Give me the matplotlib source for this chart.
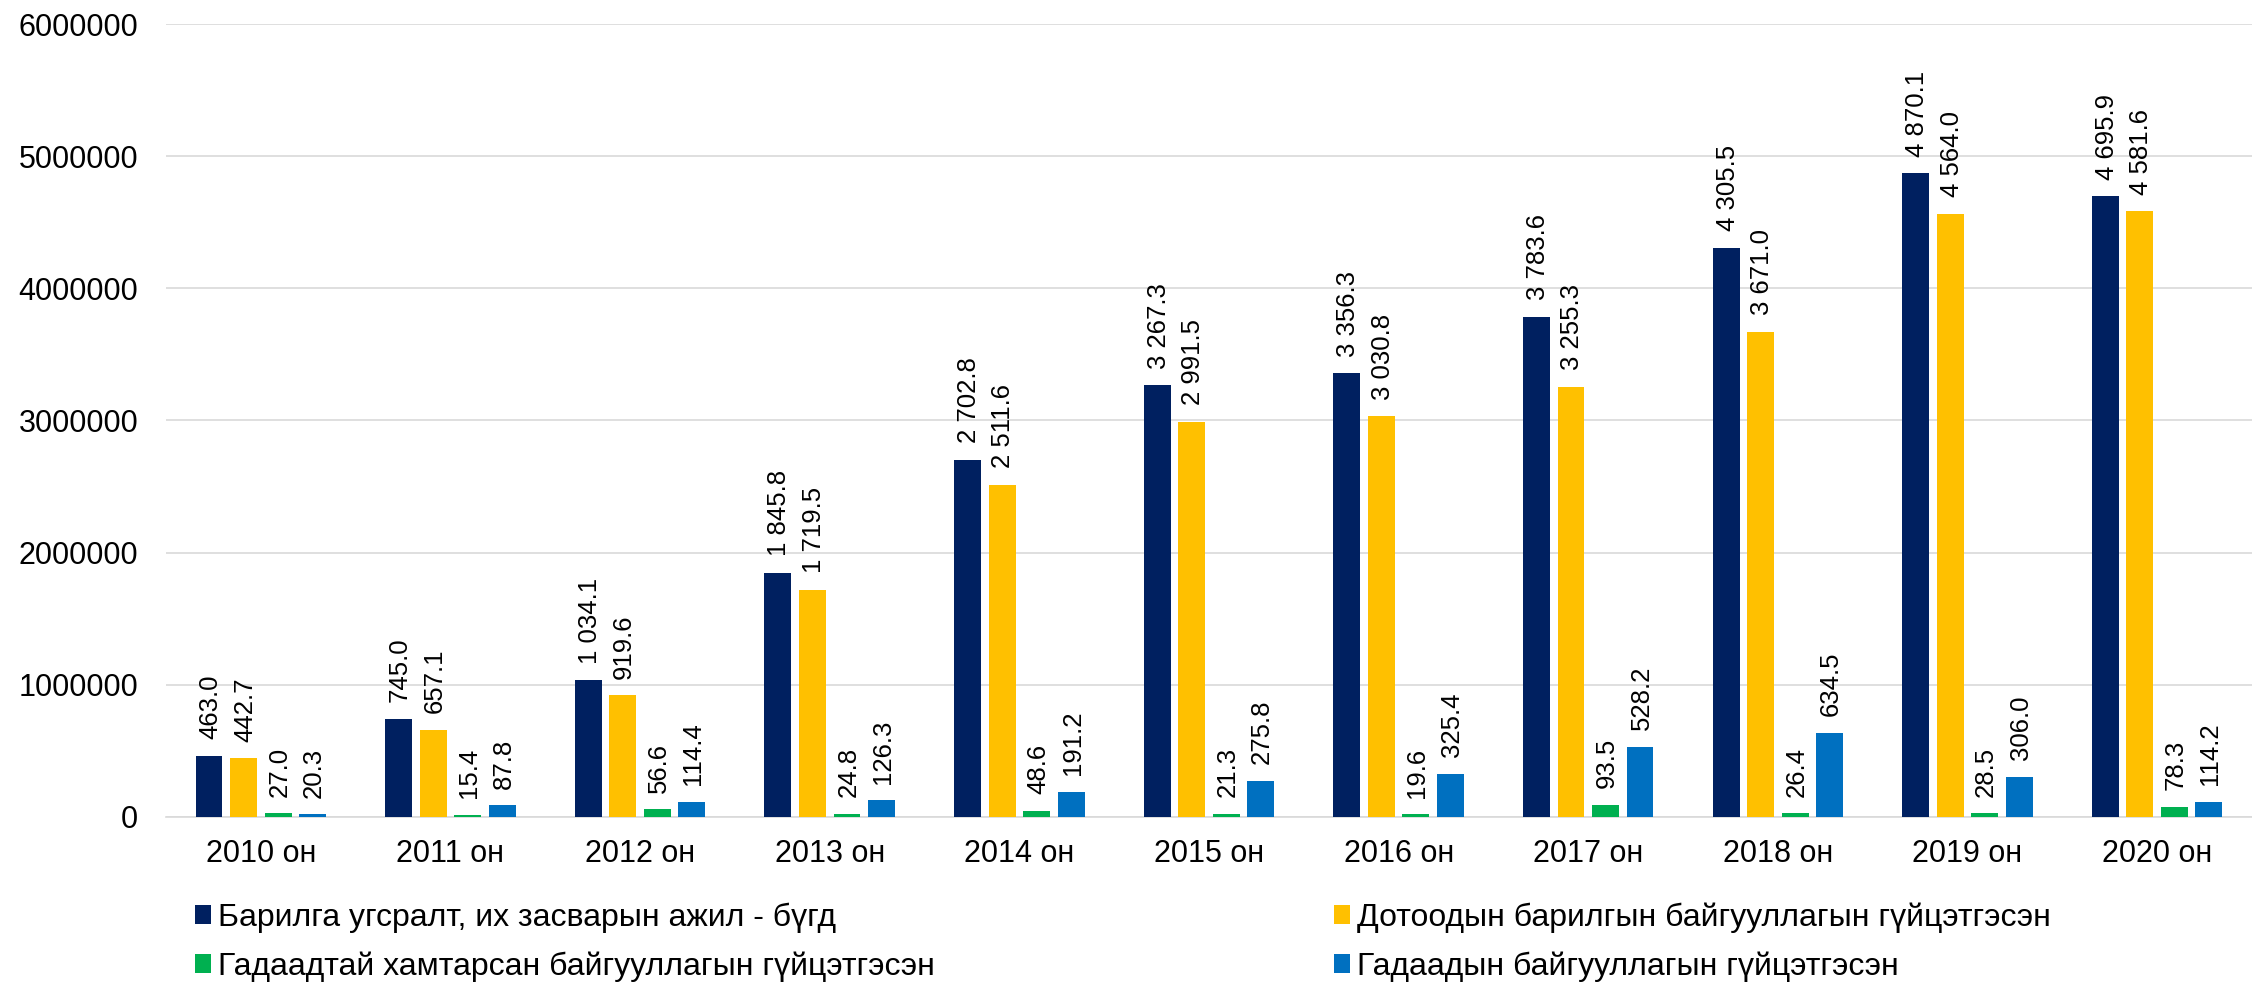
import numpy as np
import matplotlib
matplotlib.use("Agg")
import matplotlib.pyplot as plt

plt.rcParams['font.family'] = ['Liberation Sans', 'DejaVu Sans']

years = ['2010 он', '2011 он', '2012 он', '2013 он', '2014 он', '2015 он',
         '2016 он', '2017 он', '2018 он', '2019 он', '2020 он']

# values in thousands (as printed on the labels)
total = [463.0, 745.0, 1034.1, 1845.8, 2702.8, 3267.3, 3356.3, 3783.6, 4305.5, 4870.1, 4695.9]
domestic = [442.7, 657.1, 919.6, 1719.5, 2511.6, 2991.5, 3030.8, 3255.3, 3671.0, 4564.0, 4581.6]
joint = [27.0, 15.4, 56.6, 24.8, 48.6, 21.3, 19.6, 93.5, 26.4, 28.5, 78.3]
foreign = [20.3, 87.8, 114.4, 126.3, 191.2, 275.8, 325.4, 528.2, 634.5, 306.0, 114.2]

series_names = ['Барилга угсралт, их засварын ажил - бүгд',
                'Дотоодын барилгын байгууллагын гүйцэтгэсэн',
                'Гадаадтай хамтарсан байгууллагын гүйцэтгэсэн',
                'Гадаадын байгууллагын гүйцэтгэсэн']
colors = ['#002060', '#FFC000', '#00B050', '#0070C0']
series = [total, domestic, joint, foreign]


def fmt(v):
    s = f"{v:,.1f}"
    return s.replace(',', ' ')


fig = plt.figure(figsize=(22.52, 9.85), dpi=100)
ax = fig.add_axes([0.0737, 0.1706, 0.9263, 0.805])

x = np.arange(len(years))
pitch = 0.182
width = 0.142
bars = []
for i, (vals, col, name) in enumerate(zip(series, colors, series_names)):
    pos = x + (i - 1.5) * pitch
    h = np.array(vals) * 1000
    b = ax.bar(pos, h, width=width, color=col, label=name, zorder=3)
    bars.append(b)
    for px, v in zip(pos, vals):
        ax.annotate(fmt(v), (px, v * 1000), xytext=(1, 12), textcoords='offset points',
                    rotation=90, ha='center', va='bottom', fontsize=18.5, color='#000000')

ax.set_xlim(-0.5, len(years) - 0.5)
ax.set_ylim(0, 6000000)
ax.set_yticks(np.arange(0, 6000001, 1000000))
ax.set_yticklabels([str(int(t)) for t in np.arange(0, 6000001, 1000000)])
ax.set_xticks(x)
ax.set_xticklabels(years)
ax.tick_params(axis='both', length=0, labelsize=22)
ax.tick_params(axis='y', pad=20)
ax.tick_params(axis='x', pad=16)
ax.grid(axis='y', color='#D9D9D9', linewidth=1.2, zorder=0)
for s in ['top', 'right', 'left']:
    ax.spines[s].set_visible(False)
ax.spines['bottom'].set_color('#D9D9D9')
ax.spines['bottom'].set_linewidth(1.2)

order = [0, 2, 1, 3]
fig.legend([bars[i] for i in order], [series_names[i] for i in order],
           ncol=2, loc='upper left', bbox_to_anchor=(0.0866, 0.084),
           frameon=False, fontsize=23, handlelength=0.5, handleheight=0.5,
           handletextpad=0.22, labelspacing=0.58, columnspacing=12.5,
           borderpad=0, borderaxespad=0)

fig.savefig('out.png', dpi=100)
